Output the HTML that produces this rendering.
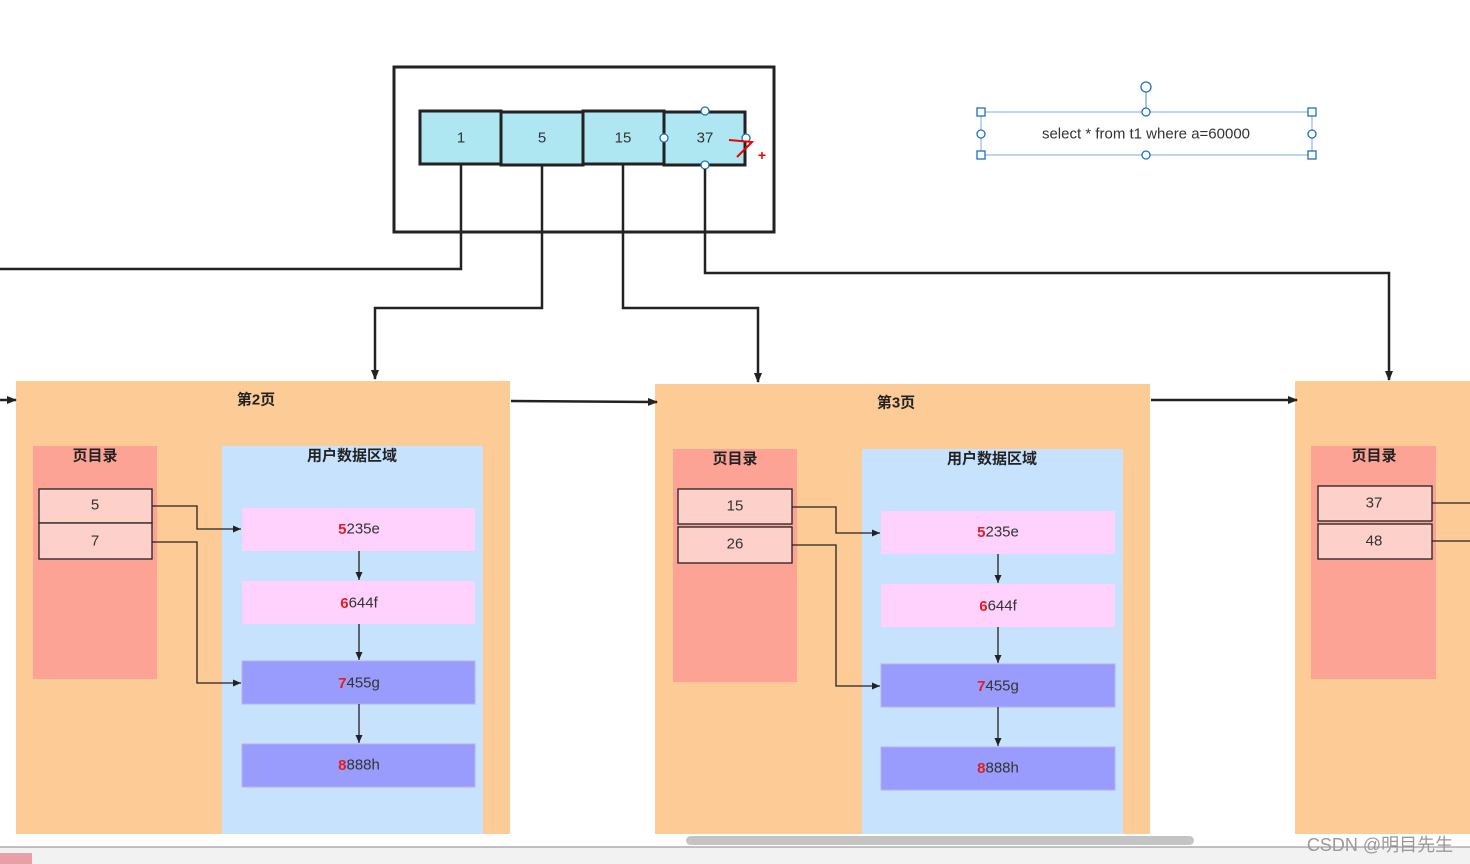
<!DOCTYPE html>
<html><head><meta charset="utf-8"><style>
html,body{margin:0;padding:0;background:#fff;width:1470px;height:864px;overflow:hidden}
svg{display:block}
text{font-family:"Liberation Sans","Noto Sans CJK SC",sans-serif;font-size:15px;fill:#333;text-anchor:middle;dominant-baseline:central}
.b{font-weight:bold;fill:#222}
.r{fill:#e02020;font-weight:bold}
</style></head><body>
<svg width="1470" height="864" viewBox="0 0 1470 864">
<defs><marker id="a" markerWidth="10" markerHeight="8" refX="9" refY="4" orient="auto" markerUnits="userSpaceOnUse"><path d="M0,0L10,4L0,8z" fill="#222"/></marker>
<marker id="s" markerWidth="8" markerHeight="7" refX="8" refY="3.5" orient="auto" markerUnits="userSpaceOnUse"><path d="M0,0L8,3.5L0,7z" fill="#222"/></marker></defs>

<!-- root box -->
<rect x="394" y="67" width="380" height="165" fill="none" stroke="#222" stroke-width="3"/>
<g stroke="#222" stroke-width="3" fill="#aee6f2">
<rect x="420" y="111" width="81" height="53"/><rect x="501" y="112" width="82" height="53"/>
<rect x="583" y="111" width="81" height="53"/><rect x="664" y="112" width="81" height="53"/></g>
<text x="461" y="138">1</text><text x="542" y="138">5</text><text x="623" y="138">15</text><text x="705" y="138">37</text>
<g fill="#fff" stroke="#1e6fc0" stroke-width="1.3"><circle cx="705" cy="111" r="4"/><circle cx="705" cy="165" r="4"/><circle cx="664" cy="138" r="4"/><circle cx="746" cy="138" r="4"/></g>
<path d="M729,140 L752,142 L744,150 L737,157" stroke="#e00" stroke-width="2" fill="none"/>
<text x="762" y="155" style="fill:#e00;font-size:14px;font-weight:bold">+</text>

<!-- select label -->
<rect x="981" y="112" width="331" height="43" fill="none" stroke="#7aaee0" stroke-width="1"/>
<line x1="1146" y1="87" x2="1146" y2="112" stroke="#4a8ad0"/>
<g fill="#fff" stroke="#1e6fc0" stroke-width="1.3">
<circle cx="1146" cy="87" r="5"/><circle cx="1146" cy="112" r="4"/><circle cx="1146" cy="155" r="4"/><circle cx="981" cy="134" r="4"/><circle cx="1312" cy="134" r="4"/>
<rect x="977" y="108" width="8" height="8"/><rect x="1308" y="108" width="8" height="8"/><rect x="977" y="151" width="8" height="8"/><rect x="1308" y="151" width="8" height="8"/></g>
<text x="1146" y="134">select * from t1 where a=60000</text>

<!-- pages -->
<rect x="16" y="381" width="494" height="453" fill="#fdcc96"/>
<rect x="655" y="384" width="495" height="450" fill="#fdcc96"/>
<rect x="1295" y="381" width="175" height="453" fill="#fdcc96"/>
<text class="b" x="256" y="400">第2页</text><text class="b" x="896" y="403">第3页</text>

<rect x="33" y="446" width="124" height="233" fill="#fda395"/>
<rect x="673" y="449" width="124" height="233" fill="#fda395"/>
<rect x="1311" y="446" width="125" height="233" fill="#fda395"/>
<text class="b" x="95" y="456">页目录</text><text class="b" x="735" y="459">页目录</text><text class="b" x="1374" y="456">页目录</text>

<g fill="#fdd1ca" stroke="#222" stroke-width="1.3">
<rect x="39" y="489" width="113" height="34"/><rect x="39" y="523" width="113" height="36"/>
<rect x="678" y="489" width="114" height="35"/><rect x="678" y="527" width="114" height="36"/>
<rect x="1318" y="486" width="114" height="35"/><rect x="1318" y="524" width="114" height="35"/></g>
<text x="95" y="505">5</text><text x="95" y="541">7</text>
<text x="735" y="506">15</text><text x="735" y="544">26</text>
<text x="1374" y="503">37</text><text x="1374" y="541">48</text>

<rect x="222" y="446" width="261" height="388" fill="#c7e2fd"/>
<rect x="862" y="449" width="261" height="385" fill="#c7e2fd"/>
<text class="b" x="352" y="456">用户数据区域</text><text class="b" x="992" y="459">用户数据区域</text>

<g stroke="#b8b0f0" stroke-width="1">
<rect x="242" y="508" width="233" height="43" fill="#fed2fd" stroke="none"/>
<rect x="242" y="581" width="233" height="43" fill="#fed2fd" stroke="none"/>
<rect x="242" y="661" width="233" height="43" fill="#999cfd"/>
<rect x="242" y="744" width="233" height="43" fill="#999cfd"/>
<rect x="881" y="511" width="234" height="43" fill="#fed2fd" stroke="none"/>
<rect x="881" y="584" width="234" height="43" fill="#fed2fd" stroke="none"/>
<rect x="881" y="664" width="234" height="43" fill="#999cfd"/>
<rect x="881" y="747" width="234" height="43" fill="#999cfd"/></g>
<text x="359" y="529"><tspan class="r">5</tspan>235e</text>
<text x="359" y="603"><tspan class="r">6</tspan>644f</text>
<text x="359" y="683"><tspan class="r">7</tspan>455g</text>
<text x="359" y="765"><tspan class="r">8</tspan>888h</text>
<text x="998" y="532"><tspan class="r">5</tspan>235e</text>
<text x="998" y="606"><tspan class="r">6</tspan>644f</text>
<text x="998" y="686"><tspan class="r">7</tspan>455g</text>
<text x="998" y="768"><tspan class="r">8</tspan>888h</text>

<!-- inner connectors -->
<g stroke="#222" stroke-width="1.3" fill="none" marker-end="url(#s)">
<path d="M152,506H197V529H241"/><path d="M152,542H197V683H241"/>
<path d="M359,551V580"/><path d="M359,624V660"/><path d="M359,704V743"/>
<path d="M792,507H836V533H880"/><path d="M792,545H836V686H880"/>
<path d="M998,554V583"/><path d="M998,627V663"/><path d="M998,707V746"/>
</g>
<g stroke="#222" stroke-width="1.3" fill="none"><path d="M1432,503H1470"/><path d="M1432,541H1470"/></g>

<!-- main connectors -->
<g stroke="#222" stroke-width="2.5" fill="none">
<path d="M461,165V269H0"/>
<path d="M542,165V308H375V379" marker-end="url(#a)"/>
<path d="M623,165V308H758V382" marker-end="url(#a)"/>
<path d="M705,169V273H1389V380" marker-end="url(#a)"/>
<path d="M511,401L657,402" marker-end="url(#a)"/>
<path d="M1151,400L1297,400" marker-end="url(#a)"/>
<path d="M0,400L16,400" marker-end="url(#a)"/>
</g>

<!-- bottom chrome -->
<rect x="686" y="836" width="508" height="9" rx="4.5" fill="#c4c4c4"/>
<rect x="0" y="847" width="1470" height="17" fill="#f2f2f2"/>
<line x1="0" y1="847" x2="1470" y2="847" stroke="#888" stroke-width="1"/>
<rect x="0" y="853" width="32" height="11" fill="#e8a0a8"/>
<text x="1380" y="845" style="font-size:18px;fill:#999">CSDN @明目先生</text>
</svg>
</body></html>
